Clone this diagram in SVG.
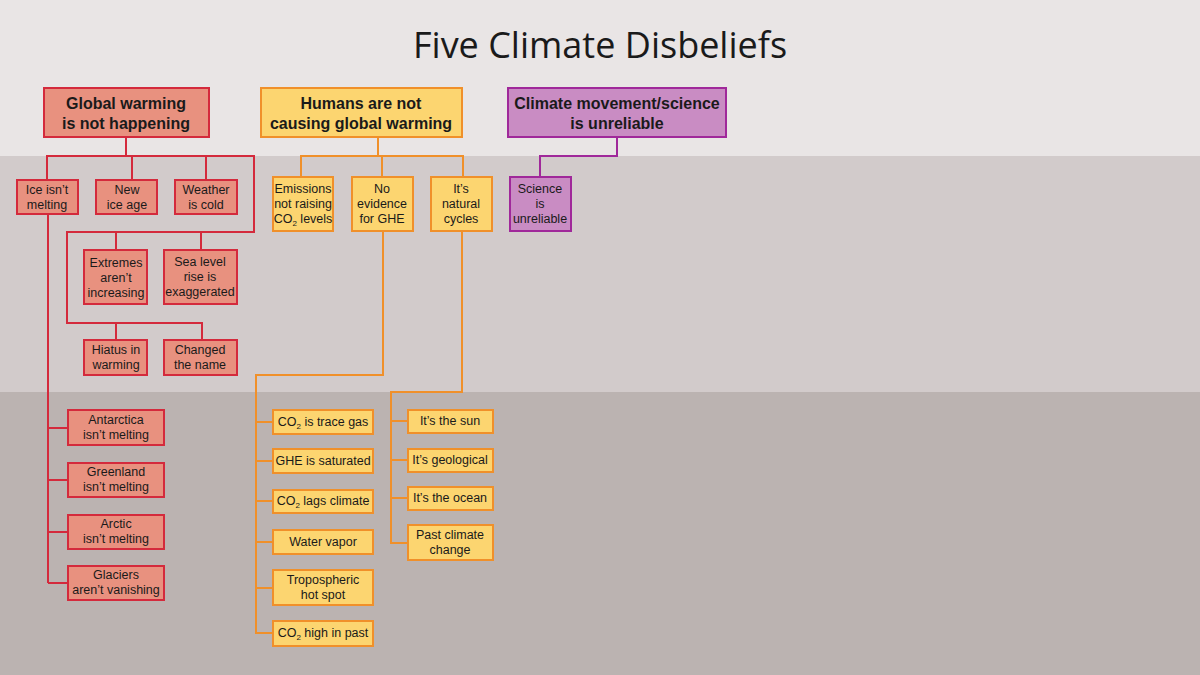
<svg xmlns="http://www.w3.org/2000/svg" width="1200" height="675" viewBox="0 0 1200 675">
<style>
text{font-family:"Liberation Sans",Arial,sans-serif;fill:#1a1a1a;text-anchor:middle}
.s{font-size:12.5px}
.h{font-size:16px;font-weight:bold}
.r rect{fill:#e8917f;stroke:#d42a3c;stroke-width:2}
.y rect{fill:#fcd570;stroke:#f0902a;stroke-width:2}
.p rect{fill:#c98cc3;stroke:#a0289a;stroke-width:2}
.lr{fill:none;stroke:#d42a3c;stroke-width:2}
.ly{fill:none;stroke:#f0902a;stroke-width:2}
.lp{fill:none;stroke:#a0289a;stroke-width:2}
</style>
<rect x="0" y="0" width="1200" height="156" fill="#e9e5e5"/>
<rect x="0" y="156" width="1200" height="236" fill="#d2cbcb"/>
<rect x="0" y="392" width="1200" height="283" fill="#bbb3b1"/>
<text x="600" y="58" style="font-size:36px;font-family:'Open Sans','Liberation Sans',sans-serif;font-weight:500">Five Climate Disbeliefs</text>
<g id="connectors">
<path class="lr" d="M126 137V156M47 180V156H254V232H67V323H202V340M132 156V180M206 156V180M116 232V250M201 232V250M116 323V340M48 214V583M48 428H68M48 480H68M48 532H68M48 583H68"/>
<path class="ly" d="M378 137V156M301 177V156H463V177M382 156V177M383 231V375H256V633H273M256 422H273M256 461H273M256 501H273M256 542H273M256 588H273M462 231V392H391V543H408M391 421H408M391 460H408M391 498H408"/>
<path class="lp" d="M617 137V156H540V177"/>
</g>
<g id="n1" class="r"><rect x="44" y="88" width="165" height="49"/><text class="h" x="126" y="109">Global warming</text><text class="h" x="126" y="129">is not happening</text></g>
<g id="n2" class="y"><rect x="261" y="88" width="201" height="49"/><text class="h" x="361" y="109">Humans are not</text><text class="h" x="361" y="129">causing global warming</text></g>
<g id="n3" class="p"><rect x="508" y="88" width="218" height="49"/><text class="h" x="617" y="109">Climate movement/science</text><text class="h" x="617" y="129">is unreliable</text></g>
<g id="r1" class="r"><rect x="17" y="180" width="61" height="34"/><text class="s" x="47" y="194">Ice isn’t</text><text class="s" x="47" y="209">melting</text></g>
<g id="r2" class="r"><rect x="96" y="180" width="61" height="34"/><text class="s" x="127" y="194">New</text><text class="s" x="127" y="209">ice age</text></g>
<g id="r3" class="r"><rect x="175" y="180" width="62" height="34"/><text class="s" x="206" y="194">Weather</text><text class="s" x="206" y="209">is cold</text></g>
<g id="r4" class="r"><rect x="84" y="250" width="63" height="54"/><text class="s" x="116" y="267">Extremes</text><text class="s" x="116" y="282">aren’t</text><text class="s" x="116" y="297">increasing</text></g>
<g id="r5" class="r"><rect x="164" y="250" width="73" height="54"/><text class="s" x="200" y="266">Sea level</text><text class="s" x="200" y="281">rise is</text><text class="s" x="200" y="296">exaggerated</text></g>
<g id="r6" class="r"><rect x="84" y="340" width="63" height="35"/><text class="s" x="116" y="354">Hiatus in</text><text class="s" x="116" y="369">warming</text></g>
<g id="r7" class="r"><rect x="164" y="340" width="73" height="35"/><text class="s" x="200" y="354">Changed</text><text class="s" x="200" y="369">the name</text></g>
<g id="r8" class="r"><rect x="68" y="410" width="96" height="35"/><text class="s" x="116" y="424">Antarctica</text><text class="s" x="116" y="439">isn’t melting</text></g>
<g id="r9" class="r"><rect x="68" y="463" width="96" height="34"/><text class="s" x="116" y="476">Greenland</text><text class="s" x="116" y="491">isn’t melting</text></g>
<g id="r10" class="r"><rect x="68" y="515" width="96" height="34"/><text class="s" x="116" y="528">Arctic</text><text class="s" x="116" y="543">isn’t melting</text></g>
<g id="r11" class="r"><rect x="68" y="566" width="96" height="34"/><text class="s" x="116" y="579">Glaciers</text><text class="s" x="116" y="594">aren’t vanishing</text></g>
<g id="y1" class="y"><rect x="273" y="177" width="60" height="54"/><text class="s" x="303" y="193">Emissions</text><text class="s" x="303" y="208">not raising</text><text class="s" x="303" y="223">CO<tspan font-size="8" dy="3">2</tspan><tspan dy="-3"> levels</tspan></text></g>
<g id="y2" class="y"><rect x="352" y="177" width="61" height="54"/><text class="s" x="382" y="193">No</text><text class="s" x="382" y="208">evidence</text><text class="s" x="382" y="223">for GHE</text></g>
<g id="y3" class="y"><rect x="431" y="177" width="61" height="54"/><text class="s" x="461" y="193">It’s</text><text class="s" x="461" y="208">natural</text><text class="s" x="461" y="223">cycles</text></g>
<g id="y4" class="y"><rect x="273" y="410" width="100" height="24"/><text class="s" x="323" y="426">CO<tspan font-size="8" dy="3">2</tspan><tspan dy="-3"> is trace gas</tspan></text></g>
<g id="y5" class="y"><rect x="273" y="449" width="100" height="24"/><text class="s" x="323" y="465">GHE is saturated</text></g>
<g id="y6" class="y"><rect x="273" y="490" width="100" height="23"/><text class="s" x="323" y="505">CO<tspan font-size="8" dy="3">2</tspan><tspan dy="-3"> lags climate</tspan></text></g>
<g id="y7" class="y"><rect x="273" y="530" width="100" height="24"/><text class="s" x="323" y="546">Water vapor</text></g>
<g id="y8" class="y"><rect x="273" y="570" width="100" height="35"/><text class="s" x="323" y="584">Tropospheric</text><text class="s" x="323" y="599">hot spot</text></g>
<g id="y9" class="y"><rect x="273" y="621" width="100" height="25"/><text class="s" x="323" y="637">CO<tspan font-size="8" dy="3">2</tspan><tspan dy="-3"> high in past</tspan></text></g>
<g id="y10" class="y"><rect x="408" y="410" width="85" height="23"/><text class="s" x="450" y="425">It’s the sun</text></g>
<g id="y11" class="y"><rect x="408" y="449" width="85" height="23"/><text class="s" x="450" y="464">It’s geological</text></g>
<g id="y12" class="y"><rect x="408" y="487" width="85" height="23"/><text class="s" x="450" y="502">It’s the ocean</text></g>
<g id="y13" class="y"><rect x="408" y="525" width="85" height="35"/><text class="s" x="450" y="539">Past climate</text><text class="s" x="450" y="554">change</text></g>
<g id="p1" class="p"><rect x="510" y="177" width="61" height="54"/><text class="s" x="540" y="193">Science</text><text class="s" x="540" y="208">is</text><text class="s" x="540" y="223">unreliable</text></g>
</svg>
